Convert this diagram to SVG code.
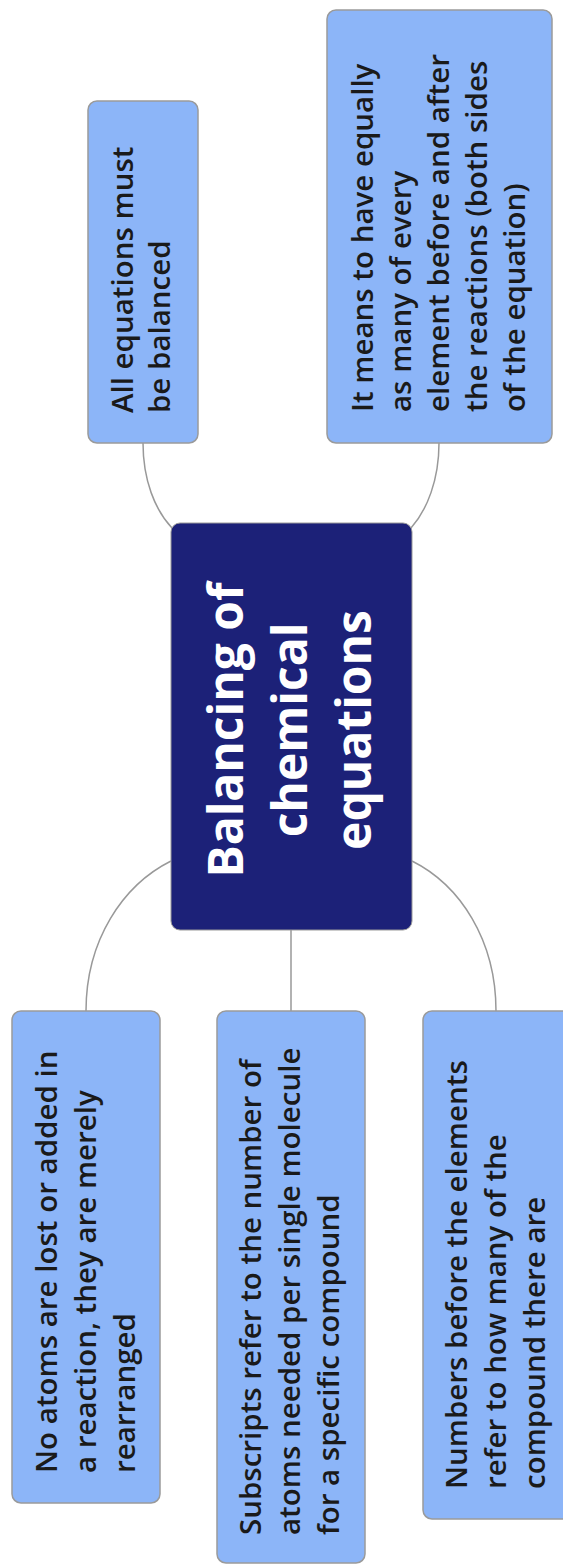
<svg xmlns="http://www.w3.org/2000/svg" width="563" height="1565" viewBox="0 0 563 1565">
<style>
.leaf{fill:#8cb5f8;stroke:#9a9a9a;stroke-width:1.5}
.root{fill:#1c2178;stroke:#9a9a9a;stroke-width:1}
.lt{font-family:"Open Sans","Noto Sans",sans-serif;font-weight:600;font-size:29.5px;fill:#1a1a1a}
.rt{font-family:"Open Sans","Noto Sans",sans-serif;font-weight:700;font-size:48px;fill:#ffffff;text-anchor:middle}
.conn{fill:none;stroke:#999999;stroke-width:1.5}
</style>
<rect width="563" height="1565" fill="#ffffff"/>
<g id="connectors">
<path class="conn" d="M143,443 C143,480 155,510 172,528"/>
<path class="conn" d="M439,443 C439,480 427,510 411,528"/>
<path class="conn" d="M171,861 C123,885 86,940 86,1011"/>
<path class="conn" d="M291,930 L291,1011"/>
<path class="conn" d="M412,861 C460,885 496,940 496,1011"/>
</g>
<g id="root">
<rect class="root" x="171" y="523" width="241" height="407" rx="9"/>
<text class="rt" transform="translate(0,730) rotate(-90)"><tspan x="0" y="243">Balancing of</tspan><tspan x="0" y="307">chemical</tspan><tspan x="0" y="371">equations</tspan></text>
</g>
<g id="node-balanced">
<rect class="leaf" x="88" y="101" width="110" height="342" rx="9"/>
<text class="lt" transform="translate(0,413) rotate(-90)"><tspan x="0" y="133">All equations must</tspan><tspan x="0" y="170">be balanced</tspan></text>
</g>
<g id="node-means">
<rect class="leaf" x="327" y="10" width="225" height="433" rx="9"/>
<text class="lt" transform="translate(0,412) rotate(-90)"><tspan x="0" y="373">It means to have equally</tspan><tspan x="0" y="411">as many of every</tspan><tspan x="0" y="449">element before and after</tspan><tspan x="0" y="487">the reactions (both sides</tspan><tspan x="0" y="525">of the equation)</tspan></text>
</g>
<g id="node-atoms">
<rect class="leaf" x="12" y="1011" width="148" height="492" rx="9"/>
<text class="lt" transform="translate(0,1473) rotate(-90)"><tspan x="0" y="57">No atoms are lost or added in</tspan><tspan x="0" y="96">a reaction, they are merely</tspan><tspan x="0" y="135">rearranged</tspan></text>
</g>
<g id="node-subscripts">
<rect class="leaf" x="217" y="1011" width="148" height="552" rx="9"/>
<text class="lt" transform="translate(0,1535) rotate(-90)"><tspan x="0" y="261">Subscripts refer to the number of</tspan><tspan x="0" y="300">atoms needed per single molecule</tspan><tspan x="0" y="339">for a specific compound</tspan></text>
</g>
<g id="node-numbers">
<rect class="leaf" x="423" y="1011" width="160" height="508" rx="9"/>
<text class="lt" transform="translate(0,1489) rotate(-90)"><tspan x="0" y="467">Numbers before the elements</tspan><tspan x="0" y="506">refer to how many of the</tspan><tspan x="0" y="545">compound there are</tspan></text>
</g>
</svg>
